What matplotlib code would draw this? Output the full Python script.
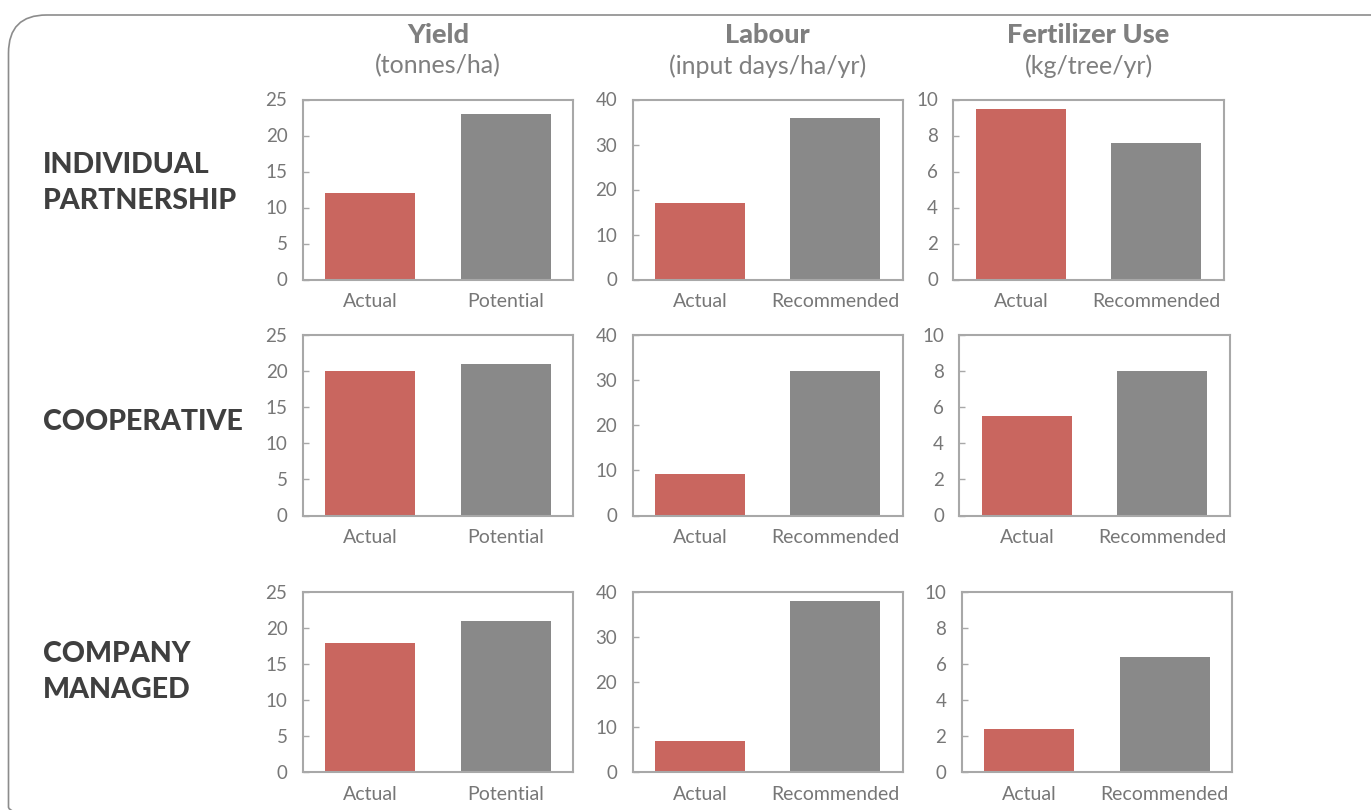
import matplotlib.pyplot as plt
from matplotlib.patches import FancyBboxPatch

# farm types (rows) and measures (columns)
row_labels = ["INDIVIDUAL\nPARTNERSHIP", "COOPERATIVE", "COMPANY\nMANAGED"]
col_titles = ["Yield", "Labour", "Fertilizer Use"]
col_units = ["(tonnes/ha)", "(input days/ha/yr)", "(kg/tree/yr)"]
col_cats = [["Actual", "Potential"],
            ["Actual", "Recommended"],
            ["Actual", "Recommended"]]
col_ymax = [25, 40, 10]
col_ystep = [5, 10, 2]

yield_actual = [12, 20, 18]
yield_potential = [23, 21, 21]
labour_actual = [17, 9.3, 7]
labour_recommended = [36, 32, 38]
fert_actual = [9.5, 5.5, 2.4]
fert_recommended = [7.6, 8.0, 6.4]

values = [
    [yield_actual, yield_potential],
    [labour_actual, labour_recommended],
    [fert_actual, fert_recommended],
]

RED = "#c9665f"
GREY = "#898989"
SPINE = "#a8a8a8"
TICK = "#777777"
TITLE = "#7f7f7f"
DARK = "#3f3f3f"
FONT = "Lato"

W, H = 1371, 810
fig = plt.figure(figsize=(W / 100, H / 100), dpi=100)

# background frame in pixel coordinates
bg = fig.add_axes([0, 0, 1, 1], zorder=-1)
bg.set_xlim(0, W)
bg.set_ylim(H, 0)
bg.axis("off")
bg.add_patch(FancyBboxPatch((8.5, 15), 1420, 830,
                            boxstyle="round,pad=0,rounding_size=38",
                            fill=False, ec="#8c8c8c", lw=1.2))

# panel boxes in pixels: left per row/column, top/bottom per row
col_left = [[302.7, 632.5, 953.3], [302.7, 632.5, 959.3], [302.7, 632.5, 961.7]]
panel_w = 270.5
row_top = [99.5, 335, 592.3]
row_bot = [279.5, 515.5, 772]

for r in range(3):
    for c in range(3):
        x0 = col_left[r][c]
        ax = fig.add_axes([x0 / W, 1 - row_bot[r] / H,
                           panel_w / W, (row_bot[r] - row_top[r]) / H])
        cats = col_cats[c]
        vals = [values[c][0][r], values[c][1][r]]
        ax.bar(range(2), vals, width=0.665, color=[RED, GREY], zorder=2)
        ax.set_xlim(-0.5, 1.5)
        ax.set_ylim(0, col_ymax[c])
        ax.set_yticks(range(0, col_ymax[c] + 1, col_ystep[c]))
        ax.set_xticks(range(2))
        ax.set_xticklabels(cats, fontsize=14, color=TICK, family=FONT)
        for lab in ax.get_yticklabels():
            lab.set_fontsize(13.5)
            lab.set_color(TICK)
            lab.set_family(FONT)
        ax.tick_params(axis="y", direction="in", length=4, width=1,
                       color=SPINE, pad=11)
        ax.tick_params(axis="x", length=0, pad=10)
        for s in ax.spines.values():
            s.set_color(SPINE)
            s.set_linewidth(1.5)

# column headings
for c in range(3):
    cx = (col_left[0][c] + panel_w / 2) / W
    fig.text(cx, 1 - 35 / H, col_titles[c], ha="center", va="center",
             fontsize=19.5, fontweight="black", color=TITLE, family=FONT)
    fig.text(cx, 1 - 66 / H, col_units[c], ha="center", va="center",
             fontsize=18, color=TITLE, family=FONT)

# row headings
row_y = [183, 422, 672]
for r in range(3):
    fig.text(43 / W, 1 - row_y[r] / H, row_labels[r], ha="left", va="center",
             fontsize=20.5, fontweight="black", color=DARK, family=FONT,
             linespacing=1.44)

fig.savefig("out.png", dpi=100)
